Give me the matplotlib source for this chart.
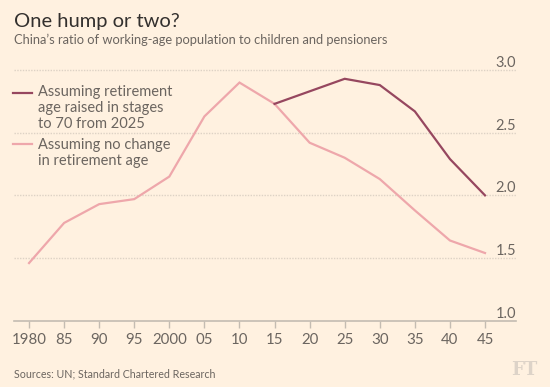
import matplotlib.pyplot as plt
from matplotlib.lines import Line2D

# Data
years = [1980, 1985, 1990, 1995, 2000, 2005, 2010, 2015, 2020, 2025, 2030, 2035, 2040, 2045]
no_change = [1.46, 1.78, 1.93, 1.97, 2.15, 2.63, 2.90, 2.73, 2.42, 2.30, 2.13, 1.88, 1.64, 1.54]

raised_years = [2015, 2020, 2025, 2030, 2035, 2040, 2045]
raised = [2.73, 2.83, 2.93, 2.88, 2.67, 2.29, 2.00]

xtick_labels = ['1980', '85', '90', '95', '2000', '05', '10', '15', '20', '25', '30', '35', '40', '45']
yticks = [1.0, 1.5, 2.0, 2.5, 3.0]

bg = '#fff1e0'
dark = '#96475f'
pink = '#eea7ab'
grey_text = '#6b6560'
axis_col = '#c4bcb2'
grid_col = '#ddd2c5'

plt.rcParams['font.family'] = ['Lato', 'DejaVu Sans']

fig = plt.figure(figsize=(5.5, 3.87), dpi=100, facecolor=bg)
ax = fig.add_axes([0.0255, 0.1713, 0.9127, 0.6685])
ax.set_facecolor(bg)

ax.plot(years, no_change, color=pink, lw=1.6, solid_joinstyle='miter', zorder=3)
ax.plot(raised_years, raised, color=dark, lw=1.6, solid_joinstyle='miter', zorder=4)

ax.set_xlim(1977.86, 2049.42)
ax.set_ylim(1.0, 3.064)

# dotted gridlines
for v in yticks[1:]:
    ax.axhline(v, color=grid_col, lw=1.0, ls=(0, (1, 1)), zorder=1)

# y labels sit above the gridlines on the right
for v in yticks:
    ax.text(1.0, v, f'{v:.1f}', transform=ax.get_yaxis_transform(), ha='right', va='bottom',
            fontsize=10.5, color=grey_text)
ax.set_yticks([])

for s in ['top', 'right', 'left']:
    ax.spines[s].set_visible(False)
ax.spines['bottom'].set_color(axis_col)
ax.spines['bottom'].set_linewidth(1.2)

ax.set_xticks(years)
ax.set_xticklabels(xtick_labels)
ax.tick_params(axis='x', length=5, width=1, color=axis_col, labelsize=10.8,
               labelcolor=grey_text, pad=4)

# legend drawn by hand
fig.add_artist(Line2D([13 / 550, 32 / 550], [1 - 92.5 / 387] * 2, color=dark, lw=1.6))
fig.add_artist(Line2D([13 / 550, 32 / 550], [1 - 144.5 / 387] * 2, color=pink, lw=1.6))
fig.text(38 / 550, 1 - 85 / 387, 'Assuming retirement\nage raised in stages\nto 70 from 2025',
         ha='left', va='top', fontsize=10.5, color=grey_text, linespacing=1.2)
fig.text(38 / 550, 1 - 138 / 387, 'Assuming no change\nin retirement age',
         ha='left', va='top', fontsize=10.5, color=grey_text, linespacing=1.2)

fig.text(14 / 550, 1 - 22 / 387, 'One hump or two?', ha='left', va='center',
         fontsize=14.5, color='#33302e')
fig.text(14 / 550, 1 - 40 / 387, "China\u2019s ratio of working-age population to children and pensioners",
         ha='left', va='center', fontsize=9.3, color=grey_text)
fig.text(14 / 550, 1 - 374 / 387, 'Sources: UN; Standard Chartered Research',
         ha='left', va='center', fontsize=7.7, color=grey_text)
fig.text(537 / 550, 1 - 370 / 387, 'FT', ha='right', va='center', fontsize=13,
         family='DejaVu Serif', weight='bold', color='#ddd3c8')

fig.savefig('out.png', dpi=100, facecolor=bg)
